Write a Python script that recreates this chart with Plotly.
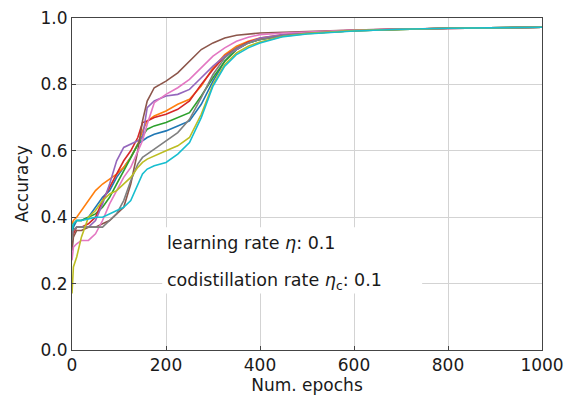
import plotly.graph_objects as go

epochs = [0, 3, 10, 20, 35, 50, 65, 80, 95, 110, 125, 140, 150, 160, 175, 200,
          225, 250, 275, 300, 325, 350, 375, 400, 450, 500, 600, 700, 800, 1000]

run_blue = [0.30, 0.37, 0.39, 0.39, 0.40, 0.43, 0.46, 0.48, 0.52, 0.55, 0.58, 0.62, 0.63, 0.64, 0.65, 0.66,
            0.675, 0.69, 0.74, 0.81, 0.87, 0.905, 0.925, 0.935, 0.947, 0.954, 0.962, 0.966, 0.969, 0.972]
run_orange = [0.38, 0.39, 0.40, 0.42, 0.45, 0.48, 0.50, 0.515, 0.53, 0.55, 0.58, 0.62, 0.66, 0.69, 0.705, 0.72,
              0.74, 0.755, 0.795, 0.85, 0.89, 0.915, 0.93, 0.94, 0.95, 0.956, 0.963, 0.967, 0.969, 0.972]
run_green = [0.36, 0.38, 0.39, 0.39, 0.40, 0.41, 0.43, 0.46, 0.50, 0.54, 0.58, 0.62, 0.645, 0.665, 0.675, 0.685,
             0.70, 0.715, 0.765, 0.82, 0.87, 0.905, 0.925, 0.935, 0.947, 0.954, 0.962, 0.966, 0.969, 0.972]
run_red = [0.33, 0.35, 0.37, 0.37, 0.38, 0.40, 0.45, 0.49, 0.53, 0.57, 0.60, 0.64, 0.685, 0.69, 0.70, 0.71,
           0.725, 0.75, 0.80, 0.845, 0.885, 0.91, 0.928, 0.938, 0.949, 0.955, 0.963, 0.967, 0.969, 0.972]
run_purple = [0.35, 0.36, 0.37, 0.37, 0.37, 0.39, 0.44, 0.50, 0.57, 0.61, 0.62, 0.63, 0.64, 0.73, 0.75, 0.765,
              0.77, 0.785, 0.82, 0.855, 0.885, 0.905, 0.925, 0.94, 0.95, 0.956, 0.963, 0.967, 0.969, 0.972]
run_brown = [0.30, 0.34, 0.36, 0.36, 0.37, 0.37, 0.38, 0.39, 0.41, 0.43, 0.50, 0.60, 0.69, 0.75, 0.79, 0.81,
             0.835, 0.87, 0.905, 0.925, 0.94, 0.948, 0.952, 0.955, 0.957, 0.96, 0.964, 0.967, 0.969, 0.972]
run_pink = [0.27, 0.31, 0.32, 0.33, 0.33, 0.35, 0.39, 0.44, 0.48, 0.52, 0.55, 0.60, 0.63, 0.68, 0.745, 0.77,
            0.79, 0.815, 0.85, 0.885, 0.91, 0.93, 0.942, 0.95, 0.955, 0.958, 0.964, 0.967, 0.969, 0.972]
run_gray = [0.33, 0.36, 0.37, 0.37, 0.37, 0.37, 0.37, 0.39, 0.41, 0.45, 0.51, 0.56, 0.58, 0.59, 0.605, 0.63,
            0.655, 0.695, 0.76, 0.83, 0.88, 0.91, 0.925, 0.935, 0.947, 0.954, 0.962, 0.966, 0.969, 0.972]
run_olive = [0.17, 0.25, 0.28, 0.34, 0.40, 0.42, 0.45, 0.47, 0.48, 0.50, 0.52, 0.55, 0.565, 0.575, 0.585, 0.60,
             0.615, 0.64, 0.71, 0.80, 0.86, 0.895, 0.915, 0.928, 0.945, 0.953, 0.962, 0.966, 0.969, 0.972]
run_cyan = [0.36, 0.38, 0.39, 0.39, 0.395, 0.40, 0.40, 0.41, 0.42, 0.43, 0.45, 0.50, 0.53, 0.545, 0.555, 0.565,
            0.59, 0.625, 0.70, 0.795, 0.855, 0.89, 0.91, 0.925, 0.944, 0.952, 0.961, 0.966, 0.969, 0.972]

series = [run_blue, run_orange, run_green, run_red, run_purple,
          run_brown, run_pink, run_gray, run_olive, run_cyan]
colors = ["#1f77b4", "#ff7f0e", "#2ca02c", "#d62728", "#9467bd",
          "#8c564b", "#e377c2", "#7f7f7f", "#bcbd22", "#17becf"]

x_ticks = [0, 200, 400, 600, 800, 1000]
y_ticks = [0.0, 0.2, 0.4, 0.6, 0.8, 1.0]
y_tick_text = ["0.0", "0.2", "0.4", "0.6", "0.8", "1.0"]

FONT = "DejaVu Sans"
TXT = "#1a1a1a"

fig = go.Figure()
for ys, c in zip(series, colors):
    fig.add_trace(go.Scatter(x=epochs, y=ys, mode="lines",
                             line=dict(color=c, width=1.6), showlegend=False))

fig.add_shape(type="rect", xref="x", yref="y", x0=192, x1=745, y0=0.17, y1=0.37,
              fillcolor="white", line=dict(width=0), layer="above")
fig.add_annotation(x=198, y=0.322, xref="x", yref="y", xanchor="left", yanchor="middle",
                   text="learning rate <i>η</i>: 0.1", showarrow=False,
                   font=dict(family=FONT, size=17.5, color=TXT))
fig.add_annotation(x=198, y=0.205, xref="x", yref="y", xanchor="left", yanchor="middle",
                   text="codistillation rate <i>η</i><sub>c</sub>: 0.1", showarrow=False,
                   font=dict(family=FONT, size=17.5, color=TXT))

axis_common = dict(showgrid=True, gridcolor="#d3d3d3", gridwidth=1,
                   showline=True, linecolor="#444444", linewidth=1, mirror=True,
                   ticks="inside", ticklen=4, tickcolor="#444444", zeroline=False,
                   automargin=False, ticklabeloverflow="allow",
                   tickfont=dict(family=FONT, size=17, color=TXT))

fig.update_xaxes(range=[0, 1000], tickvals=x_ticks, ticktext=[str(v) for v in x_ticks],
                 title=dict(text="Num. epochs", font=dict(family=FONT, size=17, color=TXT),
                            standoff=0), **axis_common)
fig.update_yaxes(range=[0, 1.0], tickvals=y_ticks, ticktext=y_tick_text,
                 title=dict(text="Accuracy", font=dict(family=FONT, size=17, color=TXT),
                            standoff=7), **axis_common)

fig.update_layout(width=565, height=388, margin=dict(l=64, r=31, t=10, b=46),
                  plot_bgcolor="white", paper_bgcolor="white",
                  font=dict(family=FONT))

fig.write_html("out.html")
